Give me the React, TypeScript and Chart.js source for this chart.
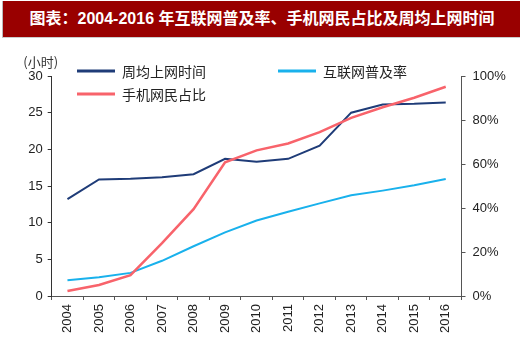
import React, { useEffect, useRef } from "react";
import { Chart, registerables } from "chart.js";

Chart.register(...registerables);

const years = ["2004", "2005", "2006", "2007", "2008", "2009", "2010", "2011", "2012", "2013", "2014", "2015", "2016"];
const weeklyHours = [13.2, 15.9, 16.0, 16.2, 16.6, 18.7, 18.3, 18.7, 20.5, 25.0, 26.1, 26.2, 26.4];
const internetRate = [7.2, 8.5, 10.5, 16.0, 22.6, 28.9, 34.3, 38.3, 42.1, 45.8, 47.9, 50.3, 53.2];
const mobileShare = [2.3, 5.0, 9.5, 24.0, 39.5, 60.8, 66.2, 69.3, 74.5, 81.0, 85.8, 90.1, 95.1];
const seriesNames = ["周均上网时间", "互联网普及率", "手机网民占比"];
const seriesColors = ["#1F3C78", "#19B1EC", "#F8636B"];
const leftMax = 30;
const leftStep = 5;
const rightMax = 100;
const rightStep = 20;
const leftUnit = "(小时)";
const titleText = "图表：2004-2016 年互联网普及率、手机网民占比及周均上网时间";

const FONT = "'Liberation Sans', Arial, 'Noto Sans CJK SC', sans-serif";
const CJK = "'Noto Sans CJK SC', 'Liberation Sans', sans-serif";

const legendPlugin = {
  id: "customLegend",
  afterDraw(chart: any) {
    const ctx = chart.ctx;
    const spots = [
      { i: 0, x: 77, y: 71 },
      { i: 1, x: 278, y: 71 },
      { i: 2, x: 77, y: 94 },
    ];
    ctx.save();
    spots.forEach((s) => {
      const ds = chart.data.datasets[s.i];
      ctx.strokeStyle = ds.borderColor;
      ctx.lineWidth = 3;
      ctx.beginPath();
      ctx.moveTo(s.x, s.y);
      ctx.lineTo(s.x + 38, s.y);
      ctx.stroke();
      ctx.fillStyle = "#222";
      ctx.font = `14px ${CJK}`;
      ctx.textBaseline = "middle";
      ctx.textAlign = "left";
      ctx.fillText(ds.label, s.x + 45, s.y + 1);
    });
    // left axis unit
    const y = chart.scales.y;
    ctx.font = `13px ${CJK}`;
    ctx.fillStyle = "#333";
    ctx.textAlign = "center";
    ctx.fillText(leftUnit, y.right - 11, y.top - 14);
    ctx.restore();
  },
};

export default function App() {
  const ref = useRef<HTMLCanvasElement | null>(null);
  useEffect(() => {
    if (!ref.current) return;
    const chart = new Chart(ref.current, {
      type: "line",
      data: {
        labels: years,
        datasets: [
          {
            label: seriesNames[0],
            data: weeklyHours,
            yAxisID: "y",
            borderColor: seriesColors[0],
            backgroundColor: seriesColors[0],
            borderWidth: 2,
            pointRadius: 0,
            tension: 0,
            order: 1,
          },
          {
            label: seriesNames[1],
            data: internetRate,
            yAxisID: "y1",
            borderColor: seriesColors[1],
            backgroundColor: seriesColors[1],
            borderWidth: 2,
            pointRadius: 0,
            tension: 0,
            order: 1,
          },
          {
            label: seriesNames[2],
            data: mobileShare,
            yAxisID: "y1",
            borderColor: seriesColors[2],
            backgroundColor: seriesColors[2],
            borderWidth: 2.5,
            pointRadius: 0,
            tension: 0,
            order: 0,
          },
        ],
      },
      options: {
        responsive: false,
        animation: false,
        layout: { padding: { top: 76, left: 0, right: 0, bottom: 0 } },
        plugins: { legend: { display: false }, tooltip: { enabled: false }, title: { display: false } },
        scales: {
          x: {
            type: "category",
            offset: true,
            grid: { offset: true, drawOnChartArea: false, drawTicks: true, tickLength: 4, color: "#555", lineWidth: 1 },
            border: { display: true, color: "#555", width: 1 },
            ticks: {
              minRotation: 90,
              maxRotation: 90,
              autoSkip: false,
              padding: 4,
              color: "#222",
              font: { family: FONT, size: 13 },
            },
            afterFit: (s: any) => {
              s.height = 59;
            },
          },
          y: {
            position: "left",
            min: 0,
            max: leftMax,
            ticks: { stepSize: leftStep, color: "#222", padding: 5, font: { family: FONT, size: 13 } },
            grid: { drawOnChartArea: false, drawTicks: true, tickLength: 4, color: "#333" },
            border: { display: true, color: "#333", width: 1 },
            afterFit: (s: any) => {
              s.width = 51.7;
            },
          },
          y1: {
            position: "right",
            min: 0,
            max: rightMax,
            ticks: {
              stepSize: rightStep,
              color: "#222",
              padding: 7,
              font: { family: FONT, size: 13 },
              callback: (v: any) => `${v}%`,
            },
            grid: { drawOnChartArea: false, drawTicks: true, tickLength: 4, color: "#555" },
            border: { display: true, color: "#555", width: 1 },
            afterFit: (s: any) => {
              s.width = 58.5;
            },
          },
        },
      },
      plugins: [legendPlugin],
    });
    return () => chart.destroy();
  }, []);

  return (
    <div style={{ position: "fixed", left: 0, top: 0, width: 520, height: 355, background: "#fff" }}>
      <canvas ref={ref} width={520} height={355} style={{ position: "absolute", left: 0, top: 0, width: 520, height: 355 }} />
      <div
        style={{
          position: "absolute",
          left: 2,
          top: 1,
          width: 518,
          height: 36,
          background: "#990000",
          color: "#fff",
          fontFamily: FONT,
          fontWeight: "bold",
          fontSize: 16,
          lineHeight: "36px",
          textAlign: "center",
          whiteSpace: "nowrap",
          borderLeft: "1px solid #bbb",
          borderBottom: "1px solid #ccc",
        }}
      >
        {titleText}
      </div>
    </div>
  );
}
